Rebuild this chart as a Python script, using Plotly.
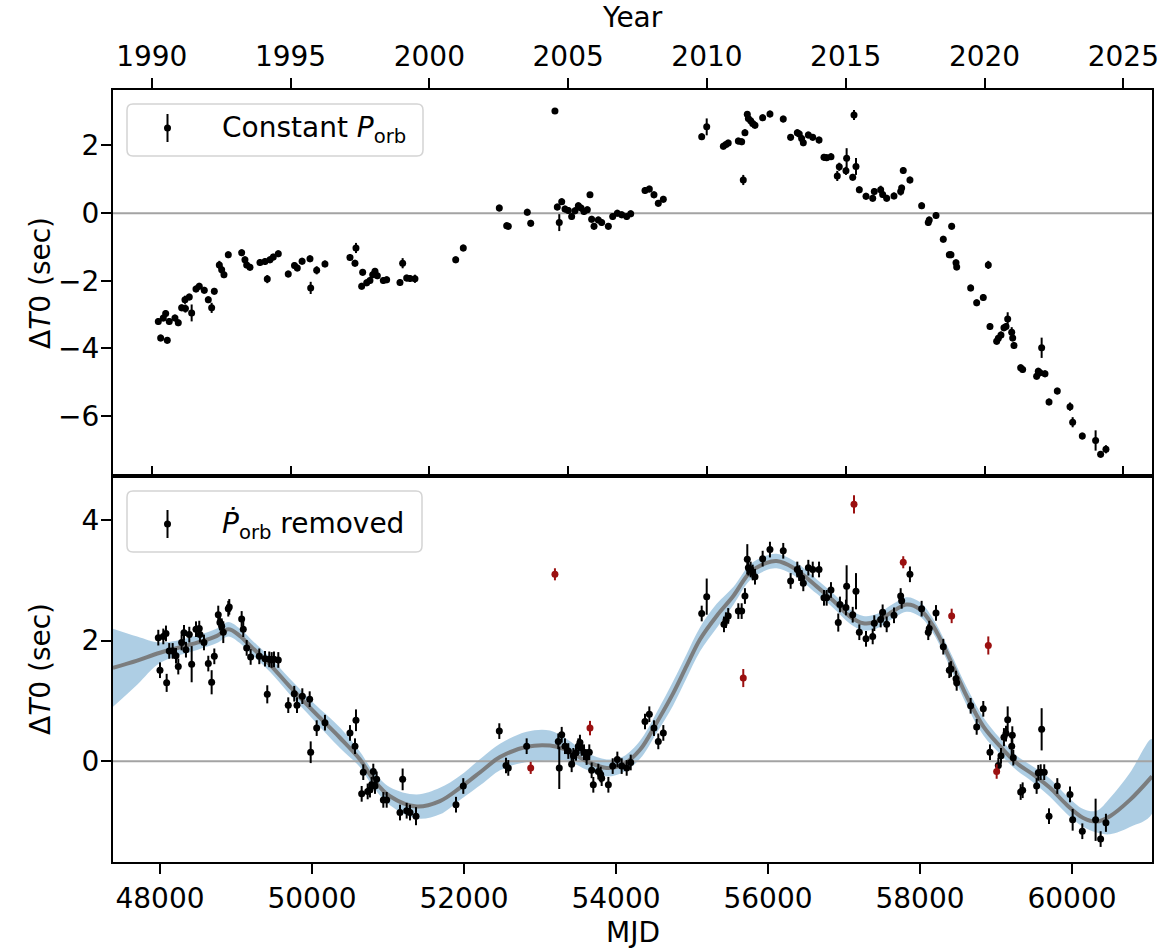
import datetime
import plotly.graph_objects as go

# ---------------- data ----------------
# Top panel: constant P_orb residuals (MJD, dT0 [s], error [s])
mjd_top = [47978, 48009, 48044, 48075, 48096, 48122, 48197, 48241, 48285, 48329, 48335, 48386, 48417, 48474,
           48517, 48583, 48636, 48680, 48715, 48781, 48812, 48842, 48899, 49075, 49118, 49141, 49184, 49316,
           49382, 49412, 49447, 49491, 49557, 49688, 49770, 49807, 49870, 49974, 49983, 50062, 50171, 50500,
           50566, 50579, 50654, 50667, 50720, 50763, 50799, 50829, 50860, 50939, 50983, 51158, 51193, 51246,
           51290, 51355, 51891, 51991, 52465, 52562, 52583, 52833, 52878, 53197, 53228, 53254, 53286, 53329,
           53373, 53417, 53461, 53505, 53540, 53579, 53623, 53658, 53680, 53711, 53768, 53812, 53900, 53957,
           54018, 54075, 54141, 54194, 54382, 54439, 54500, 54557, 54623, 55128, 55194, 55413, 55447, 55477,
           55610, 55654, 55675, 55697, 55728, 55742, 55772, 55799, 55829, 55930, 56026, 56201, 56298, 56386,
           56412, 56443, 56465, 56531, 56589, 56672, 56737, 56772, 56829, 56912, 56938, 57026, 57035, 57115,
           57132, 57158, 57202, 57290, 57378, 57399, 57483, 57509, 57562, 57658, 57746, 57759, 57780, 57868,
           58022, 58109, 58122, 58211, 58307, 58386, 58408, 58417, 58474, 58483, 58667, 58746, 58833, 58899,
           58921, 59009, 59031, 59066, 59105, 59132, 59154, 59207, 59220, 59237, 59325, 59351, 59535, 59557,
           59579, 59601, 59645, 59698, 59807, 59974, 60009, 60136, 60311, 60377, 60447]
dt_top = [-3.20, -3.69, -3.10, -2.97, -3.76, -3.20, -3.10, -3.24, -2.80, -2.56, -2.82, -2.48, -2.95, -2.24,
          -2.16, -2.28, -2.56, -2.80, -2.31, -1.53, -1.67, -1.82, -1.23, -1.17, -1.38, -1.53, -1.60, -1.46,
          -1.43, -1.95, -1.38, -1.30, -1.20, -1.80, -1.55, -1.62, -1.42, -1.35, -2.21, -1.69, -1.50, -1.31,
          -1.48, -1.03, -2.16, -1.75, -2.06, -1.99, -1.82, -1.72, -1.85, -1.99, -1.97, -2.05, -1.48, -1.92,
          -1.93, -1.94, -1.38, -1.03, 0.15, -0.37, -0.39, 0.03, -0.30, 3.02, 0.18, -0.28, 0.34, 0.12,
          0.08, -0.10, 0.07, 0.22, 0.15, 0.05, 0.10, 0.54, -0.18, -0.39, -0.20, -0.28, -0.39, -0.10,
          0.00, -0.05, -0.10, -0.02, 0.67, 0.71, 0.54, 0.29, 0.41, 2.26, 2.55, 1.98, 2.03, 2.07,
          2.13, 2.11, 0.98, 2.38, 2.92, 2.80, 2.73, 2.65, 2.60, 2.82, 2.93, 2.78, 2.24, 2.38,
          2.34, 2.21, 2.08, 2.31, 2.24, 2.16, 1.65, 1.64, 1.67, 1.10, 1.37, 1.25, 1.62, 1.06,
          2.90, 1.38, 0.69, 0.50, 0.44, 0.64, 0.69, 0.55, 0.44, 0.51, 0.64, 0.74, 1.26, 0.98,
          0.22, -0.28, -0.20, -0.07, -0.77, -1.23, -1.23, -0.39, -1.47, -1.59, -2.21, -2.65, -2.49, -1.53,
          -3.35, -3.79, -3.70, -3.60, -3.39, -3.35, -3.13, -3.52, -3.69, -3.91, -4.57, -4.62, -4.82, -4.67,
          -4.72, -3.98, -4.75, -5.58, -5.26, -5.72, -6.18, -6.59, -6.72, -7.13, -6.98]
err_top = [0.10, 0.10, 0.10, 0.10, 0.10, 0.10, 0.10, 0.10, 0.10, 0.12, 0.12, 0.10, 0.25, 0.10,
           0.10, 0.10, 0.10, 0.15, 0.10, 0.12, 0.12, 0.10, 0.10, 0.10, 0.10, 0.10, 0.10, 0.10,
           0.10, 0.12, 0.10, 0.10, 0.10, 0.10, 0.10, 0.10, 0.10, 0.10, 0.18, 0.12, 0.10, 0.10,
           0.10, 0.15, 0.10, 0.10, 0.10, 0.10, 0.10, 0.10, 0.10, 0.10, 0.10, 0.10, 0.15, 0.10,
           0.10, 0.12, 0.10, 0.10, 0.10, 0.10, 0.10, 0.10, 0.10, 0.08, 0.10, 0.25, 0.10, 0.10,
           0.10, 0.10, 0.10, 0.10, 0.10, 0.10, 0.10, 0.08, 0.10, 0.10, 0.10, 0.10, 0.10, 0.10,
           0.10, 0.10, 0.10, 0.10, 0.10, 0.10, 0.10, 0.10, 0.10, 0.10, 0.25, 0.10, 0.10, 0.10,
           0.10, 0.10, 0.15, 0.10, 0.10, 0.10, 0.10, 0.10, 0.10, 0.10, 0.10, 0.10, 0.10, 0.10,
           0.10, 0.10, 0.10, 0.10, 0.10, 0.10, 0.10, 0.10, 0.10, 0.15, 0.12, 0.12, 0.30, 0.10,
           0.15, 0.25, 0.10, 0.10, 0.10, 0.10, 0.12, 0.10, 0.10, 0.10, 0.12, 0.10, 0.10, 0.10,
           0.10, 0.10, 0.10, 0.10, 0.10, 0.10, 0.10, 0.10, 0.10, 0.10, 0.10, 0.10, 0.10, 0.12,
           0.10, 0.10, 0.10, 0.10, 0.10, 0.10, 0.20, 0.15, 0.10, 0.10, 0.10, 0.10, 0.10, 0.10,
           0.10, 0.30, 0.10, 0.10, 0.10, 0.12, 0.15, 0.10, 0.30, 0.10, 0.12]

# Bottom panel: residuals with Pdot removed
mjd_bot = [47978, 48000, 48044, 48079, 48088, 48122, 48167, 48211, 48241, 48285, 48316, 48342, 48386, 48417,
           48474, 48517, 48526, 48579, 48636, 48680, 48715, 48767, 48789, 48812, 48833, 48899, 48912, 49075,
           49096, 49141, 49193, 49307, 49382, 49412, 49438, 49470, 49500, 49557, 49688, 49767, 49803, 49873,
           49970, 49983, 50062, 50171, 50500, 50566, 50579, 50654, 50675, 50733, 50763, 50785, 50807, 50829,
           50851, 50939, 50983, 51158, 51193, 51246, 51290, 51369, 51895, 51991, 52465, 52553, 52583, 52825,
           53241, 53254, 53286, 53329, 53373, 53417, 53439, 53474, 53505, 53526, 53548, 53579, 53614, 53649,
           53680, 53702, 53768, 53799, 53812, 53900, 53957, 54018, 54075, 54141, 54194, 54382, 54439, 54500,
           54557, 54623, 55128, 55194, 55421, 55447, 55477, 55610, 55654, 55697, 55728, 55742, 55772, 55799,
           55829, 55930, 56026, 56201, 56298, 56386, 56412, 56443, 56465, 56531, 56589, 56672, 56737, 56772,
           56829, 56925, 56947, 57026, 57035, 57115, 57158, 57202, 57290, 57378, 57399, 57483, 57509, 57562,
           57658, 57746, 57759, 57868, 58022, 58109, 58122, 58211, 58307, 58386, 58408, 58474, 58483, 58667,
           58746, 58833, 58921, 59031, 59066, 59105, 59132, 59154, 59207, 59215, 59228, 59325, 59351, 59535,
           59557, 59588, 59601, 59635, 59698, 59807, 59974, 60009, 60136, 60311, 60377, 60447]
dt_bot = [2.05, 1.51, 2.07, 2.12, 1.30, 1.83, 1.83, 1.75, 1.57, 1.97, 2.13, 1.85, 2.10, 1.61,
          2.19, 2.20, 2.10, 1.97, 1.62, 1.31, 1.74, 2.43, 2.30, 2.24, 2.14, 2.53, 2.56, 2.36,
          2.19, 1.88, 1.73, 1.74, 1.70, 1.11, 1.69, 1.68, 1.69, 1.68, 0.93, 1.12, 0.93, 1.08,
          1.03, 0.15, 0.55, 0.64, 0.47, 0.25, 0.68, -0.54, -0.18, -0.50, -0.47, -0.39, -0.17, -0.41,
          -0.30, -0.64, -0.64, -0.85, -0.30, -0.82, -0.85, -0.91, -0.72, -0.41, 0.50, -0.07, -0.11, 0.25,
          0.33, -0.11, 0.44, 0.25, 0.17, -0.05, 0.09, 0.14, 0.25, 0.31, 0.22, 0.15, 0.07, 0.15,
          -0.15, -0.39, -0.17, -0.22, -0.28, -0.39, -0.08, 0.03, -0.08, -0.11, -0.02, 0.66, 0.78, 0.55,
          0.33, 0.47, 2.45, 2.73, 2.27, 2.34, 2.41, 2.49, 2.49, 2.74, 3.35, 3.21, 3.18, 3.13,
          3.06, 3.36, 3.51, 3.49, 2.99, 3.18, 3.12, 3.04, 2.95, 3.21, 3.18, 3.18, 2.71, 2.71,
          2.84, 2.30, 2.60, 2.55, 2.90, 2.43, 2.82, 2.14, 2.03, 2.07, 2.29, 2.35, 2.47, 2.27,
          2.42, 2.74, 2.66, 3.10, 2.53, 2.14, 2.20, 2.46, 1.90, 1.51, 1.53, 1.37, 1.30, 0.92,
          0.57, 0.87, 0.15, -0.07, 0.09, 0.40, 0.46, 0.69, 0.25, 0.43, 0.06, -0.51, -0.48, -0.41,
          -0.19, -0.18, 0.53, -0.18, -0.91, -0.41, -0.55, -0.97, -1.16, -0.97, -1.29, -1.02]
err_bot = [0.13, 0.13, 0.13, 0.13, 0.15, 0.13, 0.13, 0.13, 0.13, 0.13, 0.13, 0.13, 0.13, 0.30,
           0.13, 0.13, 0.13, 0.13, 0.13, 0.20, 0.13, 0.15, 0.13, 0.13, 0.18, 0.13, 0.13, 0.13,
           0.13, 0.13, 0.13, 0.13, 0.13, 0.15, 0.13, 0.13, 0.13, 0.13, 0.13, 0.13, 0.13, 0.13,
           0.13, 0.18, 0.13, 0.13, 0.13, 0.13, 0.18, 0.13, 0.13, 0.13, 0.13, 0.13, 0.13, 0.13,
           0.13, 0.13, 0.13, 0.13, 0.18, 0.13, 0.13, 0.15, 0.13, 0.13, 0.13, 0.13, 0.13, 0.13,
           0.13, 0.35, 0.13, 0.13, 0.13, 0.13, 0.13, 0.13, 0.13, 0.13, 0.13, 0.13, 0.13, 0.13,
           0.13, 0.13, 0.13, 0.13, 0.13, 0.13, 0.13, 0.13, 0.13, 0.13, 0.13, 0.13, 0.13, 0.13,
           0.13, 0.13, 0.13, 0.30, 0.13, 0.13, 0.13, 0.13, 0.13, 0.13, 0.25, 0.13, 0.13, 0.13,
           0.13, 0.13, 0.13, 0.13, 0.13, 0.13, 0.13, 0.13, 0.13, 0.13, 0.13, 0.13, 0.13, 0.13,
           0.13, 0.15, 0.13, 0.13, 0.35, 0.13, 0.30, 0.13, 0.13, 0.13, 0.13, 0.13, 0.13, 0.13,
           0.13, 0.13, 0.13, 0.13, 0.13, 0.13, 0.13, 0.13, 0.13, 0.13, 0.13, 0.13, 0.13, 0.13,
           0.13, 0.13, 0.13, 0.13, 0.13, 0.15, 0.13, 0.22, 0.15, 0.15, 0.13, 0.13, 0.13, 0.13,
           0.13, 0.13, 0.35, 0.13, 0.13, 0.13, 0.13, 0.18, 0.13, 0.35, 0.13, 0.15]

# Outliers (red) in the bottom panel
mjd_out = [52878, 53197, 53658, 55675, 57132, 57780, 58417, 58899, 59009]
dt_out = [-0.11, 3.10, 0.55, 1.38, 4.26, 3.30, 2.41, 1.92, -0.17]
err_out = [0.10, 0.10, 0.12, 0.15, 0.15, 0.10, 0.12, 0.15, 0.12]

# Smooth model curve and its 1-sigma half width
mjd_fit = [47380, 47700, 48000, 48500, 48750, 48900, 49050, 49200, 49450, 49700, 50018, 50368, 50632,
           50807, 51026, 51377, 51684, 51947, 52254, 52474, 52825, 53132, 53351, 53614, 53877, 54096,
           54316, 54535, 54754, 54930, 55105, 55325, 55544, 55763, 55982, 56114, 56333, 56640, 56860,
           57079, 57254, 57430, 57649, 57825, 58000, 58175, 58395, 58614, 58833, 59053, 59272, 59491,
           59711, 59930, 60149, 60325, 60500, 60763, 61053]
dt_fit = [1.55, 1.67, 1.80, 1.97, 2.08, 2.19, 2.08, 1.90, 1.60, 1.25, 0.83, 0.39, 0.03,
          -0.30, -0.58, -0.75, -0.66, -0.44, -0.14, 0.07, 0.24, 0.26, 0.19, 0.00, -0.11, -0.05,
          0.19, 0.64, 1.13, 1.58, 2.02, 2.41, 2.74, 3.13, 3.29, 3.32, 3.21, 2.90, 2.66,
          2.40, 2.29, 2.32, 2.49, 2.60, 2.52, 2.24, 1.69, 1.08, 0.58, 0.25, -0.03, -0.22,
          -0.44, -0.72, -0.94, -1.00, -0.91, -0.64, -0.25]
hw_fit = [0.65, 0.40, 0.17, 0.12, 0.12, 0.12, 0.12, 0.12, 0.12, 0.13, 0.14, 0.17, 0.13,
          0.13, 0.15, 0.20, 0.22, 0.20, 0.22, 0.22, 0.25, 0.25, 0.18, 0.14, 0.14, 0.13,
          0.15, 0.17, 0.20, 0.20, 0.20, 0.20, 0.15, 0.13, 0.12, 0.12, 0.12, 0.12, 0.12,
          0.12, 0.12, 0.12, 0.12, 0.12, 0.12, 0.12, 0.13, 0.15, 0.15, 0.13, 0.12, 0.13,
          0.15, 0.15, 0.15, 0.18, 0.30, 0.45, 0.62]

years = [1990, 1995, 2000, 2005, 2010, 2015, 2020, 2025]
mjd_ticks = [48000, 50000, 52000, 54000, 56000, 58000, 60000]
top_yticks = [-6, -4, -2, 0, 2]
bot_yticks = [0, 2, 4]

# ---------------- layout helpers ----------------
W, H = 1164, 952
ML, MR, MT, MB = 113, 12, 90, 90
PW, PH = W - ML - MR, H - MT - MB
XR = [47382, 61053]
YR_TOP = [-7.77, 3.64]
YR_BOT = [-1.67, 4.73]
FONT = "DejaVu Sans"
FS = 28


def px(x):
    return (x - ML) / PW


def py(y):
    return (H - MB - y) / PH


MJD0 = datetime.date(1858, 11, 17)
year_mjd = [(datetime.date(y, 1, 1) - MJD0).days for y in years]

fig = go.Figure()

# ---- top panel ----
fig.add_trace(go.Scatter(x=XR, y=[0, 0], mode="lines", line=dict(color="#a3a3a3", width=2),
                         xaxis="x", yaxis="y", showlegend=False, hoverinfo="skip"))
fig.add_trace(go.Scatter(x=mjd_top, y=dt_top, mode="markers",
                         marker=dict(color="black", size=7),
                         error_y=dict(type="data", array=err_top, color="black", thickness=2, width=0),
                         xaxis="x", yaxis="y", showlegend=False))
# helper trace for the overlaid inner-tick axis
fig.add_trace(go.Scatter(x=[XR[0]], y=[YR_TOP[0] - 10], mode="markers", marker=dict(opacity=0),
                         xaxis="x3", yaxis="y", showlegend=False, hoverinfo="skip"))

# ---- bottom panel ----
band_x = mjd_fit + mjd_fit[::-1]
band_y = [m + h for m, h in zip(dt_fit, hw_fit)] + [m - h for m, h in zip(dt_fit[::-1], hw_fit[::-1])]
fig.add_trace(go.Scatter(x=band_x, y=band_y, mode="lines", fill="toself",
                         fillcolor="rgba(31,119,180,0.36)", line=dict(width=0, shape="spline"),
                         xaxis="x2", yaxis="y2", showlegend=False, hoverinfo="skip"))
fig.add_trace(go.Scatter(x=XR, y=[0, 0], mode="lines", line=dict(color="#a3a3a3", width=2),
                         xaxis="x2", yaxis="y2", showlegend=False, hoverinfo="skip"))
fig.add_trace(go.Scatter(x=mjd_fit, y=dt_fit, mode="lines",
                         line=dict(color="rgba(120,120,120,0.95)", width=4, shape="spline"),
                         xaxis="x2", yaxis="y2", showlegend=False))
fig.add_trace(go.Scatter(x=mjd_bot, y=dt_bot, mode="markers",
                         marker=dict(color="black", size=7),
                         error_y=dict(type="data", array=err_bot, color="black", thickness=2, width=0),
                         xaxis="x2", yaxis="y2", showlegend=False))
fig.add_trace(go.Scatter(x=mjd_out, y=dt_out, mode="markers",
                         marker=dict(color="#9b1010", size=7),
                         error_y=dict(type="data", array=err_out, color="#9b1010", thickness=2, width=0),
                         xaxis="x2", yaxis="y2", showlegend=False))

axis_common = dict(showgrid=False, zeroline=False, showline=True, linecolor="black", linewidth=2,
                   ticks="outside", ticklen=10, tickwidth=2, tickcolor="black", automargin=False,
                   tickfont=dict(family=FONT, size=FS, color="black"))

fig.update_layout(
    width=W, height=H,
    margin=dict(l=ML, r=MR, t=MT, b=MB, autoexpand=False),
    paper_bgcolor="white", plot_bgcolor="white",
    font=dict(family=FONT, size=FS, color="black"),
    xaxis=dict(**axis_common, domain=[0, 1], anchor="y", side="top", range=XR, ticklabelstandoff=1,
               tickmode="array", tickvals=year_mjd, ticktext=[str(y) for y in years], mirror=True),
    xaxis3=dict(showgrid=False, zeroline=False, showline=False, overlaying="x", anchor="y", side="bottom",
                range=XR, tickmode="array", tickvals=year_mjd, ticks="inside", ticklen=10, tickwidth=2,
                tickcolor="black", showticklabels=False, automargin=False),
    yaxis=dict(**axis_common, domain=[0.5, 1], anchor="x", range=YR_TOP, tickmode="array",
               tickvals=top_yticks, mirror=True, ticklabelstandoff=-4),
    xaxis2=dict(**axis_common, domain=[0, 1], anchor="y2", range=XR, tickmode="array", ticklabelstandoff=0,
                tickvals=mjd_ticks, ticktext=[str(t) for t in mjd_ticks], mirror=True),
    yaxis2=dict(**axis_common, domain=[0, 0.5], anchor="x2", range=YR_BOT, tickmode="array",
                tickvals=bot_yticks, mirror=True, ticklabelstandoff=-4),
)

# axis titles
ann = [
    dict(text="Year", x=0.5, y=py(18), xanchor="center", yanchor="middle"),
    dict(text="MJD", x=0.5, y=py(933), xanchor="center", yanchor="middle"),
    dict(text="Δ<i>T</i>0 (sec)", x=px(40), y=py(283), xanchor="center", yanchor="middle", textangle=-90),
    dict(text="Δ<i>T</i>0 (sec)", x=px(40), y=py(669), xanchor="center", yanchor="middle", textangle=-90),
    dict(text="Constant <i>P</i><sub>orb</sub>", x=px(220), y=py(130), xanchor="left", yanchor="middle"),
    dict(text="<i>Ṗ</i><sub>orb</sub> removed", x=px(220), y=py(525), xanchor="left", yanchor="middle"),
]
for a in ann:
    fig.add_annotation(xref="paper", yref="paper", showarrow=False,
                       font=dict(family=FONT, size=FS, color="black"), **a)


def rounded_box(x0, y0, x1, y1, r=6):
    rx, ry = r / PW, r / PH
    X0, X1 = px(x0), px(x1)
    Y0, Y1 = py(y1), py(y0)  # bottom, top in paper
    return (f"M{X0 + rx},{Y0} L{X1 - rx},{Y0} Q{X1},{Y0} {X1},{Y0 + ry} L{X1},{Y1 - ry} "
            f"Q{X1},{Y1} {X1 - rx},{Y1} L{X0 + rx},{Y1} Q{X0},{Y1} {X0},{Y1 - ry} "
            f"L{X0},{Y0 + ry} Q{X0},{Y0} {X0 + rx},{Y0} Z")


for (bx0, by0, bx1, by1, gy) in [(127, 104, 423, 156, 128), (127, 491, 422, 552, 524)]:
    fig.add_shape(type="path", path=rounded_box(bx0, by0, bx1, by1), xref="paper", yref="paper",
                  line=dict(color="#d4d4d4", width=1.5), fillcolor="rgba(255,255,255,0.8)", layer="above")
    fig.add_shape(type="line", xref="paper", yref="paper", x0=px(167.5), x1=px(167.5),
                  y0=py(gy - 14), y1=py(gy + 14), line=dict(color="black", width=2), layer="above")
    fig.add_shape(type="circle", xref="paper", yref="paper", x0=px(164), x1=px(171),
                  y0=py(gy + 3.5), y1=py(gy - 3.5), fillcolor="black", line=dict(width=0), layer="above")

fig.write_html("out.html", config={"displayModeBar": False},
               post_script="document.body.style.margin='0';document.body.style.padding='0';")
